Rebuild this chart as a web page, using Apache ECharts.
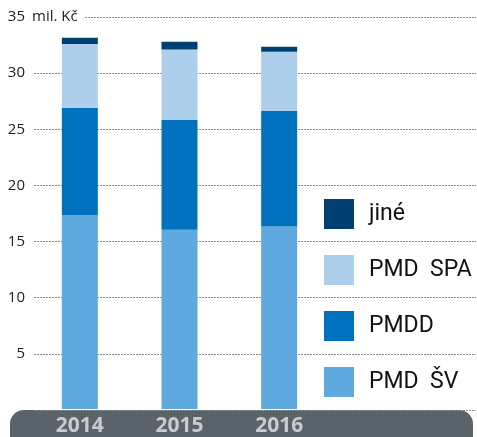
<!DOCTYPE html>
<html>
<head>
<meta charset="utf-8">
<script src="https://cdn.jsdelivr.net/npm/echarts@6/dist/echarts.min.js"></script>
<style>
  html, body { margin: 0; padding: 0; background: #fff; }
  #chart01 { width: 477px; height: 437px; }
</style>
</head>
<body>
<div id="chart01"></div>
<script>
// data (mil. Kč)
var years = ['2014', '2015', '2016'];
var pmdSv = [17.3, 16.0, 16.3];
var pmdd = [9.6, 9.8, 10.3];
var pmdSpa = [5.7, 6.3, 5.3];
var jine = [0.55, 0.7, 0.45];
var legendNames = ['jiné', 'PMD  SPA', 'PMDD', 'PMD  ŠV'];

var font = 'Open Sans';

var myChart01 = echarts.init(document.getElementById('chart01'));
var option = {
  animation: false,
  color: ['#5ea9dd', '#0071bc', '#aecfec', '#003f72'],
  title: {
    text: 'mil. Kč',
    left: 28,
    top: 8,
    padding: [0, 6, 0, 4],
    backgroundColor: '#fff',
    textStyle: { fontFamily: font, fontSize: 15, fontWeight: 'normal', color: '#222', lineHeight: 18 }
  },
  legend: {
    orient: 'vertical',
    left: 324,
    top: 199,
    padding: 0,
    itemWidth: 30,
    itemHeight: 30,
    itemGap: 26,
    icon: 'rect',
    data: legendNames,
    textStyle: { fontFamily: 'Roboto', fontSize: 23, color: '#111', padding: [0, 0, 0, 10] }
  },
  graphic: [{
    type: 'rect',
    z: 0,
    shape: { x: 10, y: 410, width: 463, height: 40, r: 14 },
    style: { fill: '#5a6369' }
  }],
  grid: [
    { left: 30, top: 17, bottom: 27, width: 299 },
    { left: 34, top: 17, bottom: 27, right: 1 }
  ],
  xAxis: [
    {
      gridIndex: 0,
      type: 'category',
      data: years,
      z: 10,
      axisLine: { show: false },
      axisTick: { show: false },
      axisLabel: { margin: 7, fontFamily: font, fontSize: 21, fontWeight: 'bold', color: '#c6cdd2' }
    },
    { gridIndex: 1, type: 'value', show: false, min: 0, max: 1 }
  ],
  yAxis: [
    { gridIndex: 0, type: 'value', min: 0, max: 35, show: false, splitLine: { show: false } },
    {
      gridIndex: 1,
      type: 'value',
      min: 0,
      max: 35,
      interval: 5,
      axisLine: { show: false },
      axisTick: { show: false },
      axisLabel: {
        margin: 9,
        fontFamily: font,
        fontSize: 15,
        color: '#222',
        formatter: function (v) { return v === 0 ? '' : v; }
      },
      splitLine: { lineStyle: { color: '#8a8a8a', type: [2, 1], width: 1 } }
    }
  ],
  series: [
    { name: 'PMD  ŠV', type: 'bar', stack: 'total', barWidth: 36, data: pmdSv },
    { name: 'PMDD', type: 'bar', stack: 'total', barWidth: 36, data: pmdd },
    { name: 'PMD  SPA', type: 'bar', stack: 'total', barWidth: 36, data: pmdSpa },
    { name: 'jiné', type: 'bar', stack: 'total', barWidth: 36, data: jine }
  ]
};
myChart01.setOption(option);
</script>
</body>
</html>
